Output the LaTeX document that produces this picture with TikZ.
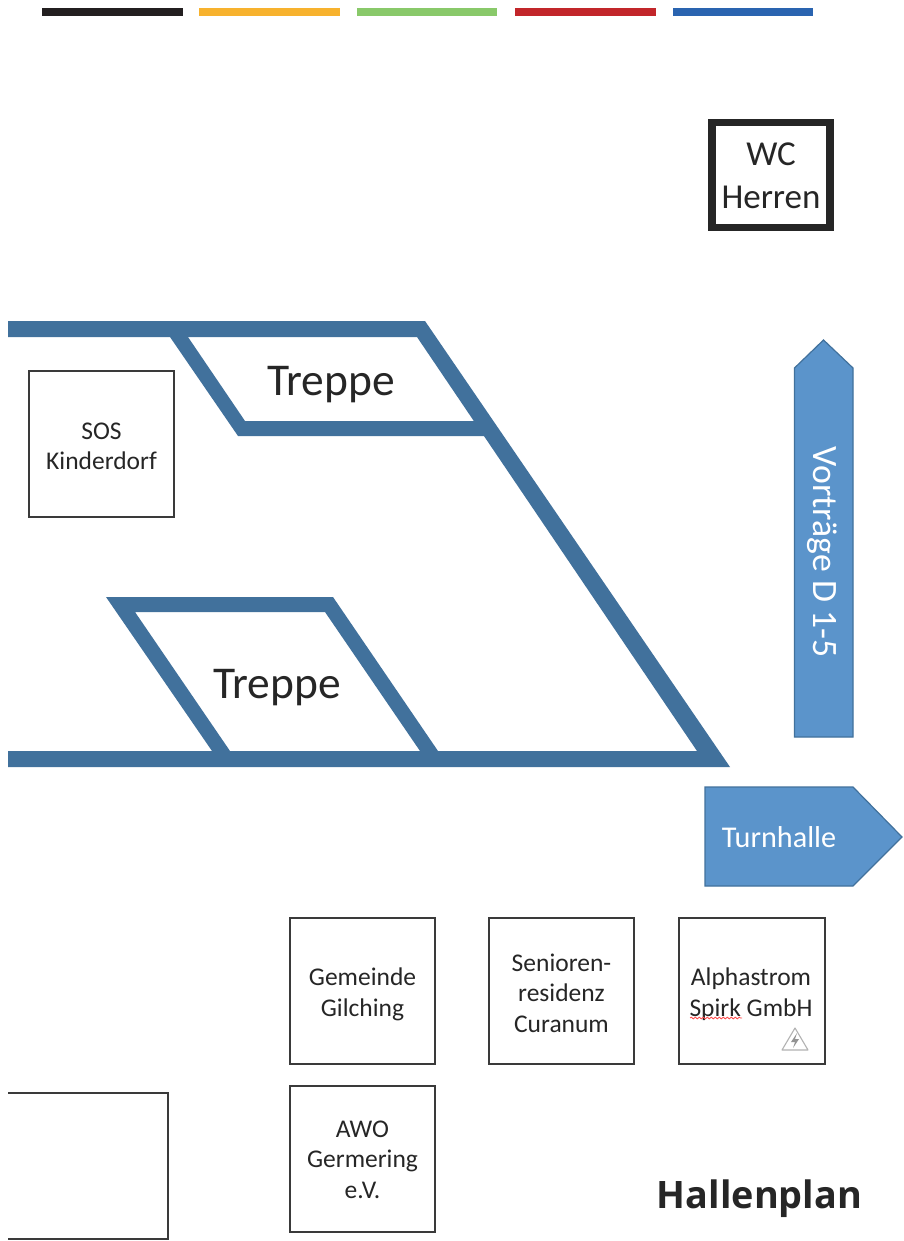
\documentclass[tikz,border=0pt]{standalone}
\usepackage{fontspec}
\usetikzlibrary{decorations.pathmorphing}
\setmainfont{Carlito}
\newfontfamily\hallfont{Open Sans}[BoldFont=* Bold]
\definecolor{wallblue}{HTML}{41719C}
\definecolor{arrowfill}{HTML}{5B94CB}
\definecolor{arrowedge}{HTML}{41719C}
\definecolor{boxedge}{HTML}{3A3A3A}
\definecolor{txt}{HTML}{262626}
\tikzset{
  wall/.style={fill=wallblue,draw=none},
  standbox/.style={draw=boxedge,line width=2pt,fill=white,minimum width=145pt,minimum height=146pt,inner sep=0pt},
  standtext/.style={align=center,text=txt,font=\fontsize{25.5}{30.5}\selectfont,inner sep=0pt},
  stairlabel/.style={text=txt,font=\fontsize{45.5}{50}\selectfont,inner sep=0pt},
  arrowshape/.style={fill=arrowfill,draw=arrowedge,line width=1.2pt},
  arrowtext/.style={text=white,inner sep=0pt},
}
\begin{document}
\begin{tikzpicture}[x=1pt,y=-1pt]
\useasboundingbox (0,0) rectangle (903,1241);
\fill[white] (0,0) rectangle (903,1241);
% colour bars
\fill[fill={rgb,255:red,35;green,31;blue,32}] (42,8) rectangle (183,16);
\fill[fill={rgb,255:red,247;green,178;blue,46}] (199,8) rectangle (340,16);
\fill[fill={rgb,255:red,137;green,201;blue,106}] (357,8) rectangle (497,16);
\fill[fill={rgb,255:red,194;green,38;blue,42}] (515,8) rectangle (656,16);
\fill[fill={rgb,255:red,42;green,100;blue,176}] (673,8) rectangle (813,16);
% walls
\fill[wall] (8,321) -- (425,321) -- (730,767) -- (8,767) -- (8,751) -- (697,751) -- (417,337) -- (8,337) -- cycle;
\fill[wall] (170,337) -- (188,337) -- (245,421) -- (475,421) -- (486,436) -- (238,436) -- cycle;
\fill[wall] (106,597) -- (333,597) -- (438,751) -- (420,751) -- (325,612) -- (135,612) -- (230,751) -- (212,751) -- cycle;
\node[stairlabel] (t1) at (331,385) {Treppe};
\node[stairlabel] (t2) at (277,688) {Treppe};
% boxes
\node[standbox] (sos) at (101.5,443.5) {};
\node[standbox] (gem) at (362.5,991) {};
\node[standbox] (sen) at (561.5,991) {};
\node[standbox,minimum width=146pt] (alp) at (751.5,991) {};
\node[standbox] (awo) at (362.5,1158.5) {};
\node[standtext] (sost) at (101.5,446.5) {SOS\\Kinderdorf};
\node[standtext] (gemt) at (362.5,994.5) {Gemeinde\\Gilching};
\node[standtext] (sent) at (561.5,993) {Senioren-\\residenz\\Curanum};
\node[standtext] (alpt) at (751,994) {Alphastrom\\Spirk GmbH};
\node[standtext] (awot) at (362.5,1159.5) {AWO\\Germering\\e.V.};
\draw[red!70!white,line width=.8pt,decorate,decoration={snake,amplitude=.9pt,segment length=4pt}] (690,1018) -- (742,1018);
\draw[gray!60,line width=1.1pt,line join=round] (782,1050) -- (795,1028) -- (808,1050) -- cycle;
\fill[gray!85] (797,1033) -- (791,1042) -- (795,1042) -- (793,1048) -- (799,1039) -- (795,1039) -- cycle;
\draw[boxedge,line width=2pt] (8,1093) -- (168,1093) -- (168,1239) -- (8,1239);
% WC
\node[draw=txt,line width=7.5pt,fill=white,minimum width=118pt,minimum height=105pt,inner sep=0pt] (wc) at (771,175) {};
\node[align=center,text=txt,font=\fontsize{35}{43}\selectfont,inner sep=0pt] (wct) at (771,176) {WC\\Herren};
% arrows
\draw[arrowshape] (794.5,737) -- (794.5,368) -- (823.5,340) -- (853,368) -- (853,737) -- cycle;
\node[arrowtext,rotate=-90,font=\fontsize{35.7}{40}\selectfont] (vt) at (822,552) {Vorträge D 1-5};
\draw[arrowshape] (705,787) -- (853,787) -- (902,837) -- (853,886) -- (705,886) -- cycle;
\node[arrowtext,font=\fontsize{30.2}{34}\selectfont] (th) at (779,837) {Turnhalle};
\node[text=txt,font=\hallfont\bfseries\fontsize{37.8}{42}\selectfont,inner sep=0pt] (hp) at (759.5,1199) {Hallenplan};
\end{tikzpicture}
\end{document}
